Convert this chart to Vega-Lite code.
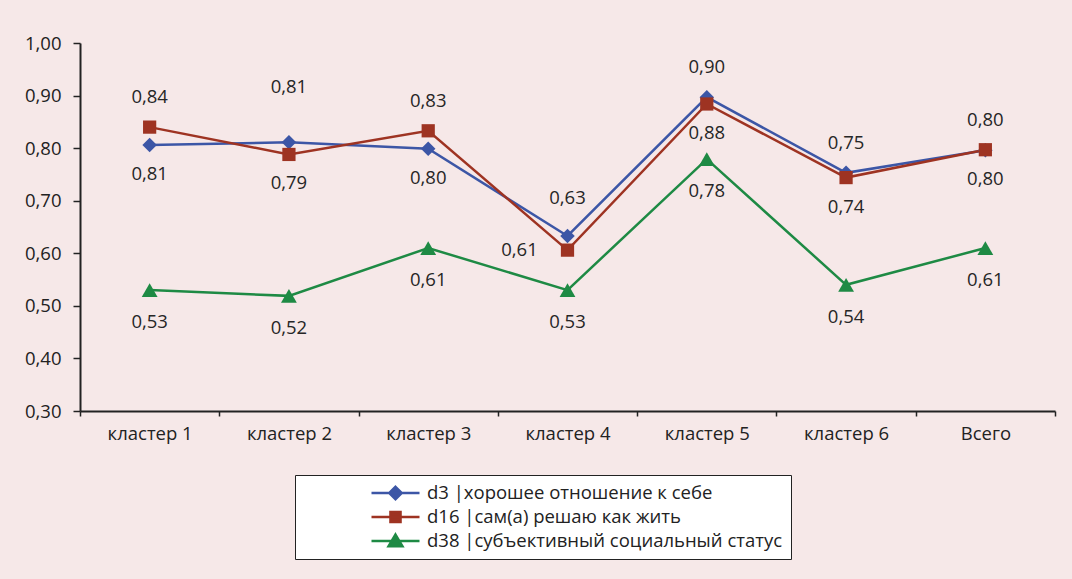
{
  "$schema": "https://vega.github.io/schema/vega-lite/v6.json",
  "autosize": {"type": "none"},
  "padding": {"left": 80, "top": 43, "right": 17, "bottom": 168},
  "width": 975,
  "height": 368,
  "background": "#F6E8E8",
  "data": {"values": [
    {"c": "кластер 1", "s": "d3 |хорошее отношение к себе", "v": 0.806},
    {"c": "кластер 2", "s": "d3 |хорошее отношение к себе", "v": 0.811},
    {"c": "кластер 3", "s": "d3 |хорошее отношение к себе", "v": 0.799},
    {"c": "кластер 4", "s": "d3 |хорошее отношение к себе", "v": 0.633},
    {"c": "кластер 5", "s": "d3 |хорошее отношение к себе", "v": 0.897},
    {"c": "кластер 6", "s": "d3 |хорошее отношение к себе", "v": 0.753},
    {"c": "Всего", "s": "d3 |хорошее отношение к себе", "v": 0.796},
    {"c": "кластер 1", "s": "d16 |сам(а) решаю как жить", "v": 0.840},
    {"c": "кластер 2", "s": "d16 |сам(а) решаю как жить", "v": 0.788},
    {"c": "кластер 3", "s": "d16 |сам(а) решаю как жить", "v": 0.833},
    {"c": "кластер 4", "s": "d16 |сам(а) решаю как жить", "v": 0.606},
    {"c": "кластер 5", "s": "d16 |сам(а) решаю как жить", "v": 0.884},
    {"c": "кластер 6", "s": "d16 |сам(а) решаю как жить", "v": 0.744},
    {"c": "Всего", "s": "d16 |сам(а) решаю как жить", "v": 0.797},
    {"c": "кластер 1", "s": "d38 |субъективный социальный статус", "v": 0.530},
    {"c": "кластер 2", "s": "d38 |субъективный социальный статус", "v": 0.519},
    {"c": "кластер 3", "s": "d38 |субъективный социальный статус", "v": 0.610},
    {"c": "кластер 4", "s": "d38 |субъективный социальный статус", "v": 0.530},
    {"c": "кластер 5", "s": "d38 |субъективный социальный статус", "v": 0.779},
    {"c": "кластер 6", "s": "d38 |субъективный социальный статус", "v": 0.540},
    {"c": "Всего", "s": "d38 |субъективный социальный статус", "v": 0.610}
  ]},
  "encoding": {
    "x": {
      "field": "c", "type": "nominal", "sort": null,
      "scale": {"type": "band", "paddingInner": 0, "paddingOuter": 0},
      "axis": {
        "title": null, "labelAngle": 0, "tickBand": "extent",
        "domainColor": "#222", "domainWidth": 2, "tickColor": "#222", "tickWidth": 1.5, "tickSize": 5,
        "labelPadding": 8, "labelFont": "Open Sans", "labelFontSize": 18.5, "labelColor": "#222"
      }
    },
    "y": {
      "field": "v", "type": "quantitative",
      "scale": {"domain": [0.3, 1.0], "nice": false, "zero": false},
      "axis": {
        "title": null, "grid": false, "values": [0.3, 0.4, 0.5, 0.6, 0.7, 0.8, 0.9, 1.0], "format": ".2f",
        "domainColor": "#222", "domainWidth": 2, "tickColor": "#222", "tickWidth": 1.5, "tickSize": 7,
        "labelPadding": 12, "labelFont": "Open Sans", "labelFontSize": 18.5, "labelColor": "#222"
      }
    },
    "color": {"field": "s", "type": "nominal",
      "scale": {"domain": ["d3 |хорошее отношение к себе", "d16 |сам(а) решаю как жить", "d38 |субъективный социальный статус"],
                "range": ["#3C56A6", "#9E3322", "#1E8A44"]},
      "legend": {
        "title": " ", "titleOrient": "left", "titlePadding": 67,
        "orient": "none", "legendX": 215, "legendY": 432,
        "fillColor": "white", "strokeColor": "#222", "padding": 8,
        "symbolSize": 2304, "symbolType": "M-1,0H1", "symbolStrokeWidth": 2.5,
        "clipHeight": 20, "rowPadding": 4, "labelOffset": 6,
        "labelFont": "Open Sans", "labelFontSize": 18.5, "labelColor": "#222", "labelLimit": 600,
        "labelExpr": "datum.label + '          '",
        "encode": {"symbols": {"update": {
          "shape": {"signal": "indexof(datum.value,'d3 ')==0 ? 'M-1,0H1M0,-0.26L0.26,0L0,0.26L-0.26,0Z' : indexof(datum.value,'d16')==0 ? 'M-1,0H1M-0.21,-0.21H0.21V0.21H-0.21Z' : 'M-1,0H1M0,-0.27L0.29,0.22H-0.29Z'"},
          "fill": {"scale": "color", "field": "value"},
          "stroke": {"scale": "color", "field": "value"},
          "strokeWidth": {"value": 2.5},
          "size": {"value": 2304},
          "opacity": {"value": 1}
        }}}
      }
    }
  },
  "layer": [
    {
      "mark": {"type": "line", "strokeWidth": 2.5}
    },
    {
      "transform": [{"filter": "substring(datum.s,0,3)=='d3 '"}],
      "mark": {"type": "point", "filled": true, "opacity": 1, "shape": "diamond", "size": 210}
    },
    {
      "transform": [{"filter": "substring(datum.s,0,3)=='d16'"}],
      "mark": {"type": "point", "filled": true, "opacity": 1, "shape": "square", "size": 175}
    },
    {
      "transform": [{"filter": "substring(datum.s,0,3)=='d38'"}],
      "mark": {"type": "point", "filled": true, "opacity": 1, "shape": "triangle-up", "size": 250}
    },
    {
      "transform": [{"filter": "(substring(datum.s,0,3)=='d3 ' && indexof(['кластер 5','кластер 6','Всего'], datum.c) >= 0) || (substring(datum.s,0,3)=='d16' && indexof(['кластер 1','кластер 3'], datum.c) >= 0)"}],
      "mark": {"type": "text", "dy": -30, "font": "Open Sans", "fontSize": 18.5, "baseline": "middle"},
      "encoding": {"text": {"field": "v", "type": "quantitative", "format": ".2f"}, "color": {"value": "#262626"}}
    },
    {
      "transform": [{"filter": "(substring(datum.s,0,3)=='d3 ' && indexof(['кластер 1','кластер 3'], datum.c) >= 0) || (substring(datum.s,0,3)=='d16' && indexof(['кластер 2','кластер 5','кластер 6','Всего'], datum.c) >= 0)"}],
      "mark": {"type": "text", "dy": 29, "font": "Open Sans", "fontSize": 18.5, "baseline": "middle"},
      "encoding": {"text": {"field": "v", "type": "quantitative", "format": ".2f"}, "color": {"value": "#262626"}}
    },
    {
      "transform": [{"filter": "substring(datum.s,0,3)=='d38'"}],
      "mark": {"type": "text", "dy": 32, "font": "Open Sans", "fontSize": 18.5, "baseline": "middle"},
      "encoding": {"text": {"field": "v", "type": "quantitative", "format": ".2f"}, "color": {"value": "#262626"}}
    },
    {
      "transform": [{"filter": "substring(datum.s,0,3)=='d3 ' && datum.c == 'кластер 2'"}],
      "mark": {"type": "text", "dy": -55, "font": "Open Sans", "fontSize": 18.5, "baseline": "middle"},
      "encoding": {"text": {"field": "v", "type": "quantitative", "format": ".2f"}, "color": {"value": "#262626"}}
    },
    {
      "transform": [{"filter": "substring(datum.s,0,3)=='d3 ' && datum.c == 'кластер 4'"}],
      "mark": {"type": "text", "dy": -38, "font": "Open Sans", "fontSize": 18.5, "baseline": "middle"},
      "encoding": {"text": {"field": "v", "type": "quantitative", "format": ".2f"}, "color": {"value": "#262626"}}
    },
    {
      "transform": [{"filter": "substring(datum.s,0,3)=='d16' && datum.c == 'кластер 4'"}],
      "mark": {"type": "text", "dx": -48, "dy": 0, "font": "Open Sans", "fontSize": 18.5, "baseline": "middle"},
      "encoding": {"text": {"field": "v", "type": "quantitative", "format": ".2f"}, "color": {"value": "#262626"}}
    }
  ],
  "config": {
    "view": {"stroke": null},
    "locale": {"number": {"decimal": ",", "thousands": " ", "grouping": [3], "currency": ["", " ₽"]}}
  }
}
